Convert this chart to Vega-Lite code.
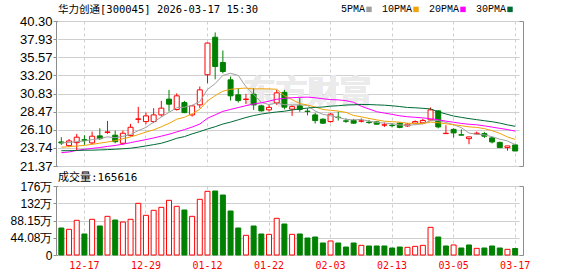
{
  "$schema": "https://vega.github.io/schema/vega-lite/v6.json",
  "autosize": {"type": "pad"},
  "padding": {"left": 9, "top": 4, "right": 49, "bottom": 6},
  "background": "white",
  "spacing": 20,
  "bounds": "flush",
  "datasets": {
    "k": [
      {"date": "2025-12-12", "open": 24.51, "high": 25.13, "low": 24.12, "close": 24.38, "vol": 690000, "5PMA": 24.40, "10PMA": 23.82, "20PMA": 23.11, "30PMA": 23.37},
      {"date": "2025-12-15", "open": 24.03, "high": 24.90, "low": 23.82, "close": 24.64, "vol": 656000, "5PMA": 24.45, "10PMA": 23.90, "20PMA": 23.20, "30PMA": 23.37},
      {"date": "2025-12-16", "open": 24.42, "high": 25.56, "low": 23.37, "close": 25.13, "vol": 886000, "5PMA": 24.55, "10PMA": 23.98, "20PMA": 23.40, "30PMA": 23.40},
      {"date": "2025-12-17", "open": 24.80, "high": 25.39, "low": 24.12, "close": 24.73, "vol": 537000, "5PMA": 24.62, "10PMA": 24.06, "20PMA": 23.55, "30PMA": 23.43},
      {"date": "2025-12-18", "open": 24.38, "high": 25.86, "low": 24.21, "close": 25.26, "vol": 912000, "5PMA": 24.83, "10PMA": 24.20, "20PMA": 23.67, "30PMA": 23.44},
      {"date": "2025-12-19", "open": 25.30, "high": 26.30, "low": 24.77, "close": 24.94, "vol": 741000, "5PMA": 24.94, "10PMA": 24.35, "20PMA": 23.78, "30PMA": 23.47},
      {"date": "2025-12-22", "open": 25.75, "high": 27.26, "low": 25.56, "close": 25.82, "vol": 988000, "5PMA": 25.18, "10PMA": 24.50, "20PMA": 23.93, "30PMA": 23.51},
      {"date": "2025-12-23", "open": 25.39, "high": 25.99, "low": 24.34, "close": 24.55, "vol": 894000, "5PMA": 25.06, "10PMA": 24.68, "20PMA": 24.05, "30PMA": 23.56},
      {"date": "2025-12-24", "open": 24.34, "high": 25.99, "low": 24.12, "close": 25.65, "vol": 843000, "5PMA": 25.24, "10PMA": 24.93, "20PMA": 24.22, "30PMA": 23.62},
      {"date": "2025-12-25", "open": 25.34, "high": 26.87, "low": 25.21, "close": 26.43, "vol": 912000, "5PMA": 25.48, "10PMA": 25.16, "20PMA": 24.42, "30PMA": 23.69},
      {"date": "2025-12-26", "open": 27.46, "high": 29.09, "low": 26.96, "close": 27.52, "vol": 1320000, "5PMA": 25.99, "10PMA": 25.47, "20PMA": 24.62, "30PMA": 23.83},
      {"date": "2025-12-29", "open": 27.17, "high": 28.34, "low": 26.83, "close": 27.91, "vol": 1014000, "5PMA": 26.41, "10PMA": 25.80, "20PMA": 24.82, "30PMA": 23.99},
      {"date": "2025-12-30", "open": 27.17, "high": 28.92, "low": 26.96, "close": 28.04, "vol": 1142000, "5PMA": 27.11, "10PMA": 26.09, "20PMA": 25.03, "30PMA": 24.16},
      {"date": "2025-12-31", "open": 28.04, "high": 29.87, "low": 27.82, "close": 28.92, "vol": 1218000, "5PMA": 27.76, "10PMA": 26.50, "20PMA": 25.27, "30PMA": 24.34},
      {"date": "2026-01-05", "open": 30.10, "high": 31.31, "low": 28.48, "close": 29.44, "vol": 1397000, "5PMA": 28.37, "10PMA": 26.93, "20PMA": 25.52, "30PMA": 24.64},
      {"date": "2026-01-06", "open": 28.74, "high": 30.86, "low": 28.61, "close": 30.53, "vol": 1244000, "5PMA": 28.97, "10PMA": 27.48, "20PMA": 25.82, "30PMA": 24.99},
      {"date": "2026-01-07", "open": 29.65, "high": 29.87, "low": 28.27, "close": 28.34, "vol": 1150000, "5PMA": 29.05, "10PMA": 27.73, "20PMA": 26.12, "30PMA": 25.21},
      {"date": "2026-01-08", "open": 28.04, "high": 29.35, "low": 27.82, "close": 29.22, "vol": 988000, "5PMA": 29.29, "10PMA": 28.20, "20PMA": 26.45, "30PMA": 25.56},
      {"date": "2026-01-09", "open": 29.35, "high": 31.75, "low": 28.92, "close": 31.31, "vol": 1423000, "5PMA": 29.77, "10PMA": 28.77, "20PMA": 26.85, "30PMA": 25.86},
      {"date": "2026-01-12", "open": 33.28, "high": 37.50, "low": 32.19, "close": 37.42, "vol": 1627000, "5PMA": 31.36, "10PMA": 29.87, "20PMA": 27.60, "30PMA": 26.20},
      {"date": "2026-01-13", "open": 38.18, "high": 38.81, "low": 32.69, "close": 34.36, "vol": 1635000, "5PMA": 32.13, "10PMA": 30.55, "20PMA": 28.05, "30PMA": 26.50},
      {"date": "2026-01-14", "open": 34.88, "high": 36.45, "low": 33.47, "close": 33.71, "vol": 1533000, "5PMA": 33.20, "10PMA": 31.13, "20PMA": 28.50, "30PMA": 26.85},
      {"date": "2026-01-15", "open": 32.62, "high": 33.05, "low": 29.91, "close": 30.53, "vol": 1124000, "5PMA": 33.47, "10PMA": 31.38, "20PMA": 28.76, "30PMA": 27.10},
      {"date": "2026-01-16", "open": 30.66, "high": 31.54, "low": 29.65, "close": 29.91, "vol": 690000, "5PMA": 33.19, "10PMA": 31.48, "20PMA": 29.00, "30PMA": 27.40},
      {"date": "2026-01-19", "open": 30.06, "high": 30.79, "low": 29.48, "close": 30.10, "vol": 503000, "5PMA": 31.72, "10PMA": 31.54, "20PMA": 29.25, "30PMA": 27.70},
      {"date": "2026-01-20", "open": 30.75, "high": 31.54, "low": 28.70, "close": 29.35, "vol": 741000, "5PMA": 30.72, "10PMA": 31.43, "20PMA": 29.47, "30PMA": 27.95},
      {"date": "2026-01-21", "open": 29.22, "high": 29.35, "low": 28.48, "close": 28.57, "vol": 537000, "5PMA": 29.69, "10PMA": 31.45, "20PMA": 29.62, "30PMA": 28.15},
      {"date": "2026-01-22", "open": 28.70, "high": 29.35, "low": 28.48, "close": 29.02, "vol": 528000, "5PMA": 29.39, "10PMA": 31.43, "20PMA": 29.84, "30PMA": 28.30},
      {"date": "2026-01-23", "open": 29.61, "high": 31.31, "low": 29.35, "close": 30.92, "vol": 937000, "5PMA": 29.59, "10PMA": 31.39, "20PMA": 30.08, "30PMA": 28.42},
      {"date": "2026-01-26", "open": 30.99, "high": 31.31, "low": 28.76, "close": 29.05, "vol": 792000, "5PMA": 29.38, "10PMA": 30.55, "20PMA": 30.21, "30PMA": 28.52},
      {"date": "2026-01-27", "open": 28.80, "high": 29.29, "low": 27.91, "close": 29.12, "vol": 528000, "5PMA": 29.34, "10PMA": 30.03, "20PMA": 30.29, "30PMA": 28.68},
      {"date": "2026-01-28", "open": 29.22, "high": 30.23, "low": 28.44, "close": 28.76, "vol": 537000, "5PMA": 29.37, "10PMA": 29.53, "20PMA": 30.33, "30PMA": 28.82},
      {"date": "2026-01-29", "open": 28.53, "high": 28.89, "low": 27.98, "close": 28.48, "vol": 434000, "5PMA": 29.27, "10PMA": 29.33, "20PMA": 30.36, "30PMA": 28.93},
      {"date": "2026-01-30", "open": 28.04, "high": 28.31, "low": 26.91, "close": 27.30, "vol": 460000, "5PMA": 28.54, "10PMA": 29.07, "20PMA": 30.28, "30PMA": 29.02},
      {"date": "2026-02-02", "open": 27.48, "high": 27.59, "low": 26.87, "close": 26.96, "vol": 307000, "5PMA": 28.12, "10PMA": 28.75, "20PMA": 30.15, "30PMA": 29.07},
      {"date": "2026-02-03", "open": 27.17, "high": 28.24, "low": 27.04, "close": 28.14, "vol": 358000, "5PMA": 27.93, "10PMA": 28.64, "20PMA": 30.04, "30PMA": 29.18},
      {"date": "2026-02-04", "open": 27.74, "high": 28.48, "low": 27.30, "close": 27.69, "vol": 307000, "5PMA": 27.71, "10PMA": 28.54, "20PMA": 30.00, "30PMA": 29.24},
      {"date": "2026-02-05", "open": 27.26, "high": 27.59, "low": 27.00, "close": 27.21, "vol": 204000, "5PMA": 27.46, "10PMA": 28.37, "20PMA": 29.90, "30PMA": 29.33},
      {"date": "2026-02-06", "open": 27.32, "high": 27.52, "low": 26.91, "close": 26.96, "vol": 307000, "5PMA": 27.39, "10PMA": 27.97, "20PMA": 29.68, "30PMA": 29.37},
      {"date": "2026-02-09", "open": 27.22, "high": 27.59, "low": 27.06, "close": 27.26, "vol": 247000, "5PMA": 27.45, "10PMA": 27.79, "20PMA": 29.17, "30PMA": 29.40},
      {"date": "2026-02-10", "open": 27.09, "high": 27.39, "low": 26.87, "close": 27.04, "vol": 230000, "5PMA": 27.23, "10PMA": 27.58, "20PMA": 28.81, "30PMA": 29.39},
      {"date": "2026-02-11", "open": 27.13, "high": 27.19, "low": 26.80, "close": 26.83, "vol": 230000, "5PMA": 27.06, "10PMA": 27.39, "20PMA": 28.46, "30PMA": 29.35},
      {"date": "2026-02-12", "open": 26.71, "high": 27.04, "low": 26.47, "close": 26.74, "vol": 230000, "5PMA": 26.97, "10PMA": 27.22, "20PMA": 28.28, "30PMA": 29.31},
      {"date": "2026-02-13", "open": 26.70, "high": 26.97, "low": 26.41, "close": 26.64, "vol": 179000, "5PMA": 26.90, "10PMA": 27.15, "20PMA": 28.11, "30PMA": 29.23},
      {"date": "2026-02-24", "open": 26.96, "high": 27.06, "low": 26.30, "close": 26.41, "vol": 204000, "5PMA": 26.73, "10PMA": 27.09, "20PMA": 27.92, "30PMA": 29.13},
      {"date": "2026-02-25", "open": 26.60, "high": 26.97, "low": 26.47, "close": 26.83, "vol": 196000, "5PMA": 26.69, "10PMA": 26.96, "20PMA": 27.80, "30PMA": 29.01},
      {"date": "2026-02-26", "open": 26.96, "high": 27.32, "low": 26.80, "close": 27.17, "vol": 221000, "5PMA": 26.76, "10PMA": 26.91, "20PMA": 27.73, "30PMA": 28.97},
      {"date": "2026-02-27", "open": 27.00, "high": 27.52, "low": 26.83, "close": 27.32, "vol": 247000, "5PMA": 26.87, "10PMA": 26.92, "20PMA": 27.65, "30PMA": 28.90},
      {"date": "2026-03-02", "open": 27.39, "high": 29.02, "low": 27.26, "close": 28.70, "vol": 707000, "5PMA": 27.29, "10PMA": 27.10, "20PMA": 27.54, "30PMA": 28.82},
      {"date": "2026-03-03", "open": 28.57, "high": 28.63, "low": 26.28, "close": 26.47, "vol": 460000, "5PMA": 27.30, "10PMA": 27.02, "20PMA": 27.41, "30PMA": 28.45},
      {"date": "2026-03-04", "open": 25.60, "high": 26.70, "low": 25.56, "close": 25.64, "vol": 230000, "5PMA": 27.06, "10PMA": 26.88, "20PMA": 27.23, "30PMA": 28.16},
      {"date": "2026-03-05", "open": 26.15, "high": 26.30, "low": 25.10, "close": 25.69, "vol": 256000, "5PMA": 26.76, "10PMA": 26.76, "20PMA": 27.08, "30PMA": 27.89},
      {"date": "2026-03-06", "open": 25.45, "high": 26.15, "low": 25.36, "close": 25.40, "vol": 179000, "5PMA": 26.38, "10PMA": 26.63, "20PMA": 26.93, "30PMA": 27.72},
      {"date": "2026-03-09", "open": 24.94, "high": 25.21, "low": 24.21, "close": 25.17, "vol": 256000, "5PMA": 25.67, "10PMA": 26.48, "20PMA": 26.82, "30PMA": 27.56},
      {"date": "2026-03-10", "open": 25.56, "high": 25.86, "low": 25.49, "close": 25.65, "vol": 170000, "5PMA": 25.51, "10PMA": 26.41, "20PMA": 26.75, "30PMA": 27.42},
      {"date": "2026-03-11", "open": 25.60, "high": 25.82, "low": 25.04, "close": 25.26, "vol": 179000, "5PMA": 25.43, "10PMA": 26.25, "20PMA": 26.61, "30PMA": 27.28},
      {"date": "2026-03-12", "open": 25.04, "high": 25.17, "low": 24.32, "close": 24.51, "vol": 230000, "5PMA": 25.20, "10PMA": 25.98, "20PMA": 26.45, "30PMA": 27.15},
      {"date": "2026-03-13", "open": 24.45, "high": 24.55, "low": 23.77, "close": 23.77, "vol": 179000, "5PMA": 24.87, "10PMA": 25.63, "20PMA": 26.28, "30PMA": 26.97},
      {"date": "2026-03-16", "open": 23.77, "high": 23.99, "low": 23.36, "close": 23.99, "vol": 145000, "5PMA": 24.64, "10PMA": 25.16, "20PMA": 26.13, "30PMA": 26.74},
      {"date": "2026-03-17", "open": 24.12, "high": 24.16, "low": 23.33, "close": 23.33, "vol": 165616, "5PMA": 24.17, "10PMA": 24.84, "20PMA": 25.93, "30PMA": 26.55}
    ]
  },
  "config": {
    "view": {"stroke": "#8c8c8c", "strokeWidth": 1},
    "axis": {"gridColor": "#cfcfcf", "gridWidth": 1, "domain": false, "labelColor": "#000000", "tickColor": "#8c8c8c", "labelOverlap": false, "labelSeparation": 0}
  },
  "vconcat": [
    {
      "width": 467,
      "height": 145,
      "title": {"text": "华力创通[300045] 2026-03-17 15:30", "anchor": "start", "frame": "group", "dx": 2, "offset": 0, "fontSize": 10.5, "font": "DejaVu Sans Mono, Noto Sans CJK SC", "fontWeight": "normal", "color": "#000000"},
      "data": {"name": "k"},
      "layer": [
        {
          "mark": {"type": "text", "fontSize": 32, "fontWeight": "bold", "font": "Noto Sans CJK SC", "color": "#ebebeb"},
          "encoding": {
            "x": {"datum": "2026-01-29", "type": "ordinal", "scale": {"range": [1.5, 463], "paddingInner": 0, "paddingOuter": 0},
              "axis": {"values": ["2025-12-17", "2025-12-29", "2026-01-12", "2026-01-22", "2026-02-03", "2026-02-13", "2026-03-05", "2026-03-17"], "grid": true, "gridDash": [3, 3], "labels": false, "ticks": false, "domain": false, "title": null, "bandPosition": 0.5}},
            "y": {"datum": 30.9, "type": "quantitative", "scale": {"domain": [21.37, 40.30], "nice": false, "zero": false},
              "axis": {"values": [21.37, 23.74, 26.10, 28.47, 30.83, 33.20, 35.57, 37.93, 40.30], "tickCount": 9, "format": ".2f", "title": null, "grid": true, "tickSize": 3, "labelPadding": 1, "labelFont": "Liberation Sans", "labelFontSize": 13, "labelOverlap": false, "labelSeparation": 0}},
            "text": {"value": "东方财富"}
          }
        },
        {
          "mark": {"type": "rule", "strokeWidth": 1},
          "encoding": {
            "x": {"field": "date", "type": "ordinal", "scale": {"range": [1.5, 463], "paddingInner": 0, "paddingOuter": 0},
              "axis": {"values": ["2025-12-17", "2025-12-29", "2026-01-12", "2026-01-22", "2026-02-03", "2026-02-13", "2026-03-05", "2026-03-17"], "grid": true, "gridDash": [3, 3], "labels": false, "ticks": false, "domain": false, "title": null, "bandPosition": 0.5}},
            "y": {"field": "low", "type": "quantitative", "scale": {"domain": [21.37, 40.30], "nice": false, "zero": false},
              "axis": {"values": [21.37, 23.74, 26.10, 28.47, 30.83, 33.20, 35.57, 37.93, 40.30], "tickCount": 9, "format": ".2f", "title": null, "grid": true, "tickSize": 3, "labelPadding": 1, "labelFont": "Liberation Sans", "labelFontSize": 13, "labelOverlap": false, "labelSeparation": 0}},
            "y2": {"field": "high"},
            "stroke": {"condition": {"test": "datum.close > datum.open", "value": "#ff0000"}, "value": "#008000"}
          }
        },
        {
          "mark": {"type": "bar", "size": 5, "strokeWidth": 1},
          "encoding": {
            "x": {"field": "date", "type": "ordinal"},
            "y": {"field": "open", "type": "quantitative"},
            "y2": {"field": "close"},
            "fill": {"condition": {"test": "datum.close > datum.open", "value": "#ffffff"}, "value": "#008000"},
            "stroke": {"condition": {"test": "datum.close > datum.open", "value": "#ff0000"}, "value": "#008000"}
          }
        },
        {
          "transform": [{"fold": ["5PMA", "10PMA", "20PMA", "30PMA"], "as": ["ma", "val"]}],
          "mark": {"type": "line", "strokeWidth": 1},
          "encoding": {
            "x": {"field": "date", "type": "ordinal"},
            "y": {"field": "val", "type": "quantitative"},
            "color": {"field": "ma", "type": "nominal",
              "scale": {"domain": ["5PMA", "10PMA", "20PMA", "30PMA"], "range": ["#a0a0a0", "#f0a30a", "#ff00ff", "#006a35"]},
              "legend": {"orient": "none", "legendX": 308, "legendY": -17, "direction": "horizontal", "title": null, "symbolType": "square", "symbolSize": 6, "symbolStrokeWidth": 3, "labelAlign": "right", "labelOffset": -9, "labelFont": "Liberation Mono", "labelFontSize": 10, "labelColor": "#000000", "columnPadding": 4}}
          }
        }
      ]
    },
    {
      "width": 467,
      "height": 69,
      "title": {"text": "成交量:165616", "anchor": "start", "frame": "group", "dx": 2, "offset": -3, "fontSize": 11, "font": "DejaVu Sans Mono, Noto Sans CJK SC", "fontWeight": "normal", "color": "#000000"},
      "data": {"name": "k"},
      "transform": [{"window": [{"op": "lag", "field": "close", "as": "prev"}], "sort": [{"field": "date", "order": "ascending"}]}],
      "mark": {"type": "bar", "size": 5, "strokeWidth": 1},
      "encoding": {
        "x": {"field": "date", "type": "ordinal", "scale": {"range": [1.5, 463], "paddingInner": 0, "paddingOuter": 0},
          "axis": {"values": ["2025-12-17", "2025-12-29", "2026-01-12", "2026-01-22", "2026-02-03", "2026-02-13", "2026-03-05", "2026-03-17"], "grid": true, "gridDash": [3, 3], "ticks": false, "domain": false, "title": null, "bandPosition": 0.5, "labelAngle": 0, "labelExpr": "substring(datum.label, 5)", "labelColor": "#ff0000", "labelFont": "DejaVu Sans Mono", "labelFontSize": 10, "labelPadding": 5}},
        "y": {"field": "vol", "type": "quantitative", "scale": {"domain": [0, 1763000], "nice": false},
          "axis": {"values": [0, 440800, 881500, 1322300, 1763000], "tickCount": 5, "labelExpr": "datum.value == 0 ? '0' : (datum.value >= 1000000 ? format(datum.value / 10000, '.0f') : format(datum.value / 10000, '.2f')) + '万'", "title": null, "grid": true, "tickSize": 3, "labelPadding": 1, "labelFont": "Liberation Sans", "labelFontSize": 12}},
        "fill": {"condition": {"test": "datum.prev != null && datum.close > datum.prev", "value": "#ffffff"}, "value": "#008000"},
        "stroke": {"condition": {"test": "datum.prev != null && datum.close > datum.prev", "value": "#ff0000"}, "value": "#008000"}
      }
    }
  ]
}
